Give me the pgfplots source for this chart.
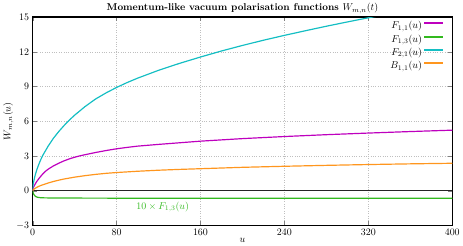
\documentclass[border=0pt]{standalone}
\usepackage{pgfplots}
\pgfplotsset{compat=1.18}
\definecolor{cmag}{RGB}{190,0,190}
\definecolor{cgreen}{RGB}{50,185,30}
\definecolor{ccyan}{RGB}{20,190,195}
\definecolor{corange}{RGB}{255,150,30}
\begin{document}
\begin{tikzpicture}
\begin{axis}[
  scale only axis,
  width=423pt, height=210pt,
  xmin=0, xmax=400, ymin=-3, ymax=15,
  xtick={0,80,...,400}, ytick={-3,0,...,15},
  tick align=inside,
  major tick length=4pt,
  axis line style={line width=1.2pt},
  grid=major,
  major grid style={gray!50, dotted, line width=0.5pt},
  xlabel={$u$}, ylabel={$W_{m,n}(u)$},
  xlabel style={yshift=4pt},
  ylabel style={yshift=-4pt},
  title={\bfseries Momentum-like vacuum polarisation functions $W_{m,n}(t)$},
  title style={yshift=-6pt},
  legend style={draw=none, fill=none, at={(0.985,1.0)}, anchor=north east,
    row sep=0.5pt, font=\normalsize},
  legend cell align=right,
  legend plot pos=right,
  legend image code/.code={\fill[#1, draw=none] (0pt,1.6pt) rectangle (19pt,3.6pt);},
  every axis plot/.append style={line width=1.2pt, line join=round},
]
\addplot[black!85, line width=1pt, forget plot] coordinates {(0,0) (400,0)};
\addplot[cmag] coordinates {
(0,0) (0.5,0.22) (1,0.33) (2,0.5) (3,0.66) (4,0.8) (6,1.05) (8,1.27) (10,1.48) (12,1.66) (15,1.87) (20,2.15) (26,2.42) (30,2.58) (35,2.75) (40,2.89) (45,3.01) (50,3.11) (60,3.3) (70,3.47) (80,3.62) (90,3.74) (100,3.85) (120,4.0) (140,4.14) (160,4.28) (200,4.5) (240,4.68) (280,4.84) (320,4.98) (360,5.11) (400,5.23)};
\addlegendentry{$F_{1,1}(u)$}
\addplot[cgreen] coordinates {
(0,0) (0.5,-0.18) (1,-0.3) (2,-0.43) (3,-0.5) (4,-0.55) (6,-0.59) (8,-0.61) (12,-0.62) (20,-0.63) (50,-0.64) (100,-0.65) (200,-0.655) (400,-0.66)};
\addlegendentry{$F_{1,3}(u)$}
\addplot[ccyan] coordinates {
(0,0) (0.5,0.51) (1,0.78) (2,1.18) (3,1.51) (4,1.8) (5,2.06) (6,2.3) (8,2.73) (10,3.1) (15,3.88) (20,4.55) (25,5.12) (30,5.63) (35,6.1) (40,6.52) (50,7.27) (60,7.92) (70,8.45) (80,8.92) (90,9.34) (100,9.72) (120,10.4) (140,11.0) (160,11.55) (180,12.07) (200,12.55) (220,13.0) (240,13.42) (260,13.82) (280,14.21) (300,14.58) (320,14.94) (340,15.29) (360,15.63) (400,16.28)};
\addlegendentry{$F_{2,1}(u)$}
\addplot[corange] coordinates {
(0,0) (0.5,0.07) (1,0.11) (2,0.18) (4,0.29) (6,0.38) (8,0.455) (10,0.52) (15,0.67) (20,0.8) (25,0.91) (30,1.01) (40,1.17) (50,1.3) (60,1.41) (70,1.5) (80,1.57) (100,1.68) (120,1.77) (140,1.84) (160,1.9) (200,2.02) (240,2.11) (280,2.19) (320,2.26) (360,2.32) (400,2.37)};
\addlegendentry{$B_{1,1}(u)$}
\node[text=cgreen] at (axis cs:124,-1.4) {$10\times F_{1,3}(u)$};
\end{axis}
\end{tikzpicture}
\end{document}
